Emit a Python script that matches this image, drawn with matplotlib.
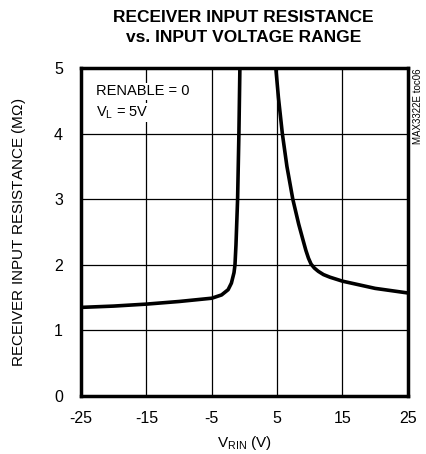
import numpy as np
from matplotlib import pyplot as plt

plt.rcParams["font.family"] = ["Liberation Sans", "DejaVu Sans"]
plt.rcParams["axes.unicode_minus"] = False

# left branch of the curve (negative side up to the jump)
v_left = [-25, -20, -15, -10, -5, -3.5, -2.5, -2.0, -1.6, -1.45, -1.3, -1.05, -0.85, -0.7, -0.65]
r_left = [1.35, 1.37, 1.40, 1.44, 1.49, 1.54, 1.62, 1.72, 1.88, 2.0, 2.3, 3.0, 4.0, 5.0, 5.3]
# right branch (coming down from the top)
v_right = [4.7, 4.8, 5.2, 5.8, 6.5, 7.4, 8.3, 8.9, 9.4, 9.8, 10.2, 10.7, 11.3, 12.1, 13.1, 15, 20, 25]
r_right = [5.3, 5.0, 4.55, 4.0, 3.5, 3.0, 2.62, 2.4, 2.22, 2.1, 2.01, 1.95, 1.90, 1.85, 1.81, 1.75, 1.64, 1.57]

x_ticks = [-25, -15, -5, 5, 15, 25]
y_ticks = [0, 1, 2, 3, 4, 5]

fig = plt.figure(figsize=(4.27, 4.54), dpi=100)
ax = fig.add_axes([0.19, 0.128, 0.765, 0.722])

ax.plot(v_left, r_left, color='k', linewidth=2.6, solid_capstyle='round')
ax.plot(v_right, r_right, color='k', linewidth=2.6, solid_capstyle='round')

ax.set_xlim(-25, 25)
ax.set_ylim(0, 5)
ax.set_xticks(x_ticks)
ax.set_yticks(y_ticks)
ax.tick_params(length=0, labelsize=11.5)
ax.tick_params(axis='y', pad=13)
ax.tick_params(axis='x', pad=11)
ax.grid(True, color='k', linewidth=0.9)
for s in ax.spines.values():
    s.set_linewidth(2.5)

ax.set_xlabel("V$_{\\mathregular{RIN}}$ (V)", fontsize=11, labelpad=6)
ax.set_ylabel("RECEIVER INPUT RESISTANCE (M$\\mathregular{\\Omega}$)", fontsize=11, labelpad=19)

ax.text(0.045, 0.93, "RENABLE = 0", transform=ax.transAxes, fontsize=10.5,
        va='center', ha='left', bbox=dict(facecolor='white', edgecolor='none', pad=1))
ax.text(0.045, 0.865, "V$_{\\mathregular{L}}$ = 5V", transform=ax.transAxes, fontsize=10.5,
        va='center', ha='left', bbox=dict(facecolor='white', edgecolor='none', pad=1))

fig.text(0.978, 0.85, "MAX3322E toc06", rotation=90, fontsize=7, ha='center', va='top')

fig.text(0.57, 0.961, "RECEIVER INPUT RESISTANCE", fontsize=12.5, fontweight='bold',
         ha='center', va='center')
fig.text(0.57, 0.918, "vs. INPUT VOLTAGE RANGE", fontsize=12.5, fontweight='bold',
         ha='center', va='center')

fig.savefig("out.png", dpi=100)
